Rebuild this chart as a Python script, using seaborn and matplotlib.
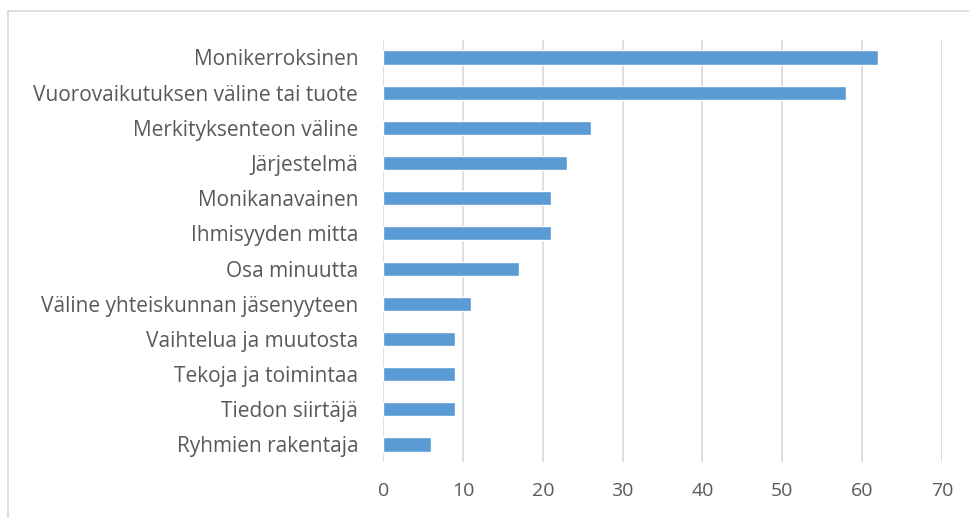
import matplotlib
matplotlib.use("Agg")
import matplotlib.pyplot as plt
import seaborn as sns
import pandas as pd
from matplotlib.lines import Line2D

categories = [
    "Monikerroksinen",
    "Vuorovaikutuksen väline tai tuote",
    "Merkityksenteon väline",
    "Järjestelmä",
    "Monikanavainen",
    "Ihmisyyden mitta",
    "Osa minuutta",
    "Väline yhteiskunnan jäsenyyteen",
    "Vaihtelua ja muutosta",
    "Tekoja ja toimintaa",
    "Tiedon siirtäjä",
    "Ryhmien rakentaja",
]
values = [62, 58, 26, 23, 21, 21, 17, 11, 9, 9, 9, 6]
xticks = [0, 10, 20, 30, 40, 50, 60, 70]

sns.set_theme(style="white")
plt.rcParams["font.family"] = ["Open Sans", "DejaVu Sans"]

df = pd.DataFrame({"category": categories, "value": values})

fig = plt.figure(figsize=(9.7, 5.18), dpi=100)
ax = fig.add_axes([0.395, 0.108, 0.576, 0.815])

sns.barplot(data=df, x="value", y="category", orient="h", color="#5B9BD5",
            width=0.4, saturation=1, ax=ax, zorder=3)

ax.set_xlim(0, 70)
ax.set_ylim(11.5, -0.5)
ax.set_xticks(xticks)
ax.set_xticklabels([str(t) for t in xticks])
ax.grid(axis="x", color="#D9D9D9", linewidth=1.2, zorder=0)
ax.set_axisbelow(True)
for s in ax.spines.values():
    s.set_visible(False)
ax.set_xlabel("")
ax.set_ylabel("")
ax.tick_params(axis="y", length=0, labelsize=15, colors="#595959", pad=18)
ax.tick_params(axis="x", length=0, labelsize=14, colors="#595959", pad=14)

fig.add_artist(Line2D([8 / 970, 8 / 970], [0, 1 - 11 / 518], transform=fig.transFigure,
                      color="#D9D9D9", linewidth=1.2))
fig.add_artist(Line2D([8 / 970, 1], [1 - 11 / 518, 1 - 11 / 518], transform=fig.transFigure,
                      color="#D9D9D9", linewidth=1.2))

fig.savefig("out.png", dpi=100)
